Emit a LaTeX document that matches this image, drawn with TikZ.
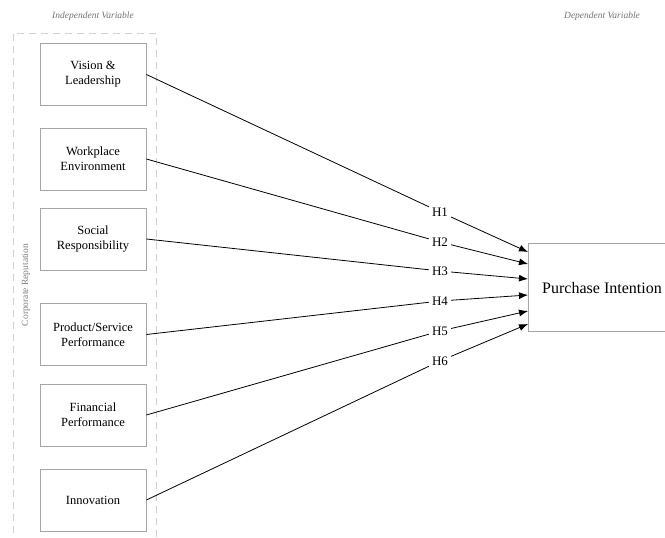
\documentclass[tikz,border=0pt]{standalone}
\usepackage{fontspec}
\setmainfont{Liberation Serif}
\usetikzlibrary{arrows.meta}
\begin{document}
\begin{tikzpicture}[x=1pt,y=-1pt,
  ivbox/.style={draw=black!35, line width=0.8pt, minimum width=106pt, minimum height=62pt, align=center, font=\fontsize{12.5}{15}\selectfont, inner sep=0pt},
  hlabel/.style={font=\fontsize{13}{15}\selectfont, inner sep=3pt, fill=none},
  link/.style={draw=black, line width=0.8pt},
  arr/.style={link, -{Latex[length=9pt,width=7pt]}},
  hdr/.style={font=\itshape\fontsize{9.5}{11}\selectfont, text=black!55}
]
\useasboundingbox (0,0) rectangle (665,538);
\begin{scope}
\clip (0,0) rectangle (665,538);
\draw[black!18, dashed, dash pattern=on 7pt off 5pt, line width=0.9pt] (13,545) -- (13,33) -- (156,33) -- (156,545);
\node[hdr] (ivh) at (93,16) {Independent Variable};
\node[hdr] (dvh) at (602,16) {Dependent Variable};
\node[rotate=90, font=\fontsize{9.5}{11}\selectfont, text=black!50] (cr) at (26,285) {Corporate Reputation};

\node[ivbox] (b1) at (93,74.5) {Vision \&\\Leadership};
\node[ivbox] (b2) at (93,159) {Workplace\\Environment};
\node[ivbox] (b3) at (93,239) {Social\\Responsibility};
\node[ivbox] (b4) at (93,334.5) {Product/Service\\Performance};
\node[ivbox] (b5) at (93,415) {Financial\\Performance};
\node[ivbox] (b6) at (93,500) {Innovation};

\node[draw=black!35, line width=0.8pt, minimum width=160pt, minimum height=88pt, anchor=north west, inner sep=0pt] (pi) at (528,243) {};
\node[font=\fontsize{16}{19}\selectfont] (pit) at (602,288) {Purchase Intention};

\coordinate (t1) at (528,252);
\coordinate (t2) at (528,264);
\coordinate (t3) at (528,279);
\coordinate (t4) at (528,295);
\coordinate (t5) at (528,311);
\coordinate (t6) at (528,324);

\node[hlabel] (h1) at (440,212) {H1};
\node[hlabel] (h2) at (440,242) {H2};
\node[hlabel] (h3) at (440,271) {H3};
\node[hlabel] (h4) at (440,301) {H4};
\node[hlabel] (h5) at (440,331) {H5};
\node[hlabel] (h6) at (440,361) {H6};

\foreach \i in {1,...,6}{
  \draw[link] (b\i.east) -- (h\i);
  \draw[arr] (h\i) -- (t\i);
}
\end{scope}
\end{tikzpicture}
\end{document}
